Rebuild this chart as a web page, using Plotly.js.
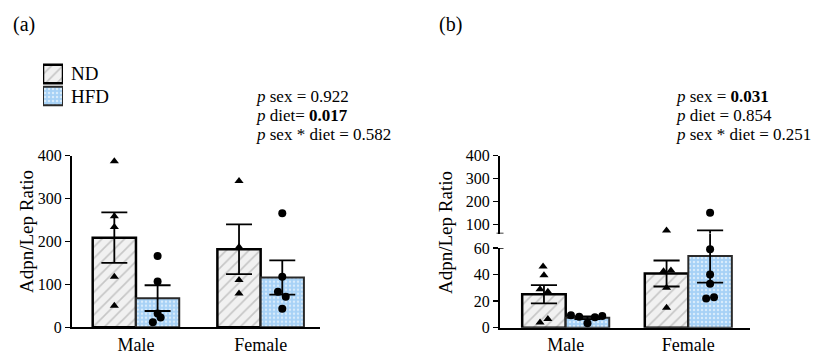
<!DOCTYPE html>
<html><head><meta charset="utf-8">
<script src="https://cdn.plot.ly/plotly-3.0.1.min.js"></script>
<style>html,body{margin:0;padding:0;background:#fff}</style>
</head><body><div id="chart" style="width:816px;height:354px"></div>
<script>
// ---------------- data ----------------
const categories = ['Male', 'Female'];
const groups = ['ND', 'HFD'];
const yTitle = 'Adpn/Lep Ratio';

// Panel (a)
const aNdMean = [209, 182];
const aNdSem = [59, 58];
const aHfdMean = [68, 116];
const aHfdSem = [30, 40];
const aMaleNd = [387, 259, 234, 118, 50];
const aMaleHfd = [166, 107, 32, 23, 12];
const aFemaleNd = [341, 187, 110, 79];
const aFemaleHfd = [266, 118, 83, 71, 43];
const aStats = ['<i>p</i> sex = 0.922', '<i>p</i> diet= <b>0.017</b>', '<i>p</i> sex * diet = 0.582'];

// Panel (b)
const bNdMean = [25.2, 40.8];
const bNdSem = [6.9, 9.8];
const bHfdMean = [7.5, 54];
const bHfdSem = [1.1, 20];
const bMaleNd = [46, 39.5, 29, 27, 4, 6.5];
const bMaleHfd = [9.3, 8.3, 3.3, 7.8, 8.8];
const bFemaleNd = [74, 42.5, 43, 30, 15];
const bFemaleHfd = [151, 59, 40, 33, 22, 23];
const bStats = ['<i>p</i> sex = <b>0.031</b>', '<i>p</i> diet = 0.854', '<i>p</i> sex * diet = 0.251'];
const bBreak = 60;   // axis break value

// horizontal jitter of the dots (fraction of a bar width)
const aJit = {mn: [0,0,0,0,0], mh: [0,0,0,0.07,-0.11], fn: [0,0,0,0], fh: [0,0,-0.1,0.08,0]};
const bJit = {mn: [-0.02,0,-0.09,0.09,-0.09,0.09], mh: [-0.38,-0.19,0,0.17,0.34], fn: [0,-0.07,0.1,0,0], fh: [0,0,0,0,-0.09,0.09]};

// ---------------- helpers ----------------
const W = 816, H = 354;
const fx = p => p / W;
const fy = p => 1 - p / H;
const FONT = '"Liberation Serif", "Times New Roman", serif';

const ndMarker = {color: '#f2f2f2', line: {color: '#000', width: 2.5},
  pattern: {shape: '/', fillmode: 'replace', bgcolor: '#f1f1f1', fgcolor: '#c6c6c6', size: 8, solidity: 0.2}};
const hfdMarker = {color: '#a9d3f6', line: {color: '#2a2a2a', width: 2},
  pattern: {shape: '.', fillmode: 'replace', bgcolor: '#a6d1f6', fgcolor: '#d8ecfc', size: 4, solidity: 0.3}};

function errorLines(centers, means, sems, lo, hi, capHalf) {
  const x = [], y = [];
  centers.forEach((c, i) => {
    const top = means[i] + sems[i], bot = means[i] - sems[i];
    const a = Math.max(bot, lo), b = Math.min(top, hi);
    if (b > a) { x.push(c, c, null); y.push(a, b, null); }
    if (top >= lo && top <= hi) { x.push(c - capHalf, c + capHalf, null); y.push(top, top, null); }
    if (bot >= lo && bot <= hi) { x.push(c - capHalf, c + capHalf, null); y.push(bot, bot, null); }
  });
  return {x, y};
}

function dots(vals, center, jit, w, symbol, xa, ya, filter) {
  const x = [], y = [];
  vals.forEach((v, i) => { if (!filter || filter(v)) { x.push(center + jit[i] * w); y.push(v); } });
  return {type: 'scatter', mode: 'markers', x, y, xaxis: xa, yaxis: ya, cliponaxis: false,
    marker: {symbol, size: 8, color: '#000'}, hoverinfo: 'y', showlegend: false};
}

const traces = [];
const shapes = [];
const idx = categories.map((c, i) => i);

// ---------------- panel (a) ----------------
const wa = 0.347;
traces.push({type: 'bar', name: groups[0], x: idx, y: aNdMean, width: wa, offset: -wa, marker: ndMarker, xaxis: 'x', yaxis: 'y', showlegend: false});
traces.push({type: 'bar', name: groups[1], x: idx, y: aHfdMean, width: wa, offset: 0, marker: hfdMarker, xaxis: 'x', yaxis: 'y', showlegend: false});
{
  const ndC = idx.map(i => i - wa / 2), hfC = idx.map(i => i + wa / 2);
  [[ndC, aNdMean, aNdSem], [hfC, aHfdMean, aHfdSem]].forEach(([c, m, s]) => {
    const e = errorLines(c, m, s, 0, 400, 0.3 * wa);
    traces.push({type: 'scatter', mode: 'lines', x: e.x, y: e.y, xaxis: 'x', yaxis: 'y', line: {color: '#000', width: 1.8}, hoverinfo: 'skip', showlegend: false, cliponaxis: false});
  });
  traces.push(dots(aMaleNd, ndC[0], aJit.mn, wa, 'triangle-up', 'x', 'y'));
  traces.push(dots(aMaleHfd, hfC[0], aJit.mh, wa, 'circle', 'x', 'y'));
  traces.push(dots(aFemaleNd, ndC[1], aJit.fn, wa, 'triangle-up', 'x', 'y'));
  traces.push(dots(aFemaleHfd, hfC[1], aJit.fh, wa, 'circle', 'x', 'y'));
}

// ---------------- panel (b) ----------------
const wb = 0.355;
const lowDom = [fy(327.7), fy(248)];
const upDom = [fy(233.6), fy(155.7)];
traces.push({type: 'bar', name: groups[0], x: idx, y: bNdMean, width: wb, offset: -wb, marker: ndMarker, xaxis: 'x2', yaxis: 'y2', showlegend: false});
traces.push({type: 'bar', name: groups[1], x: idx, y: bHfdMean, width: wb, offset: 0, marker: hfdMarker, xaxis: 'x2', yaxis: 'y2', showlegend: false});
{
  const ndC = idx.map(i => i - wb / 2), hfC = idx.map(i => i + wb / 2);
  [[ndC, bNdMean, bNdSem], [hfC, bHfdMean, bHfdSem]].forEach(([c, m, s]) => {
    const lo = errorLines(c, m, s, 0, bBreak, 0.3 * wb);
    traces.push({type: 'scatter', mode: 'lines', x: lo.x, y: lo.y, xaxis: 'x2', yaxis: 'y2', line: {color: '#000', width: 1.8}, hoverinfo: 'skip', showlegend: false, cliponaxis: false});
    const up = errorLines(c, m, s, bBreak, 400, 0.3 * wb);
    traces.push({type: 'scatter', mode: 'lines', x: up.x, y: up.y, xaxis: 'x2', yaxis: 'y3', line: {color: '#000', width: 1.8}, hoverinfo: 'skip', showlegend: false, cliponaxis: false});
    c.forEach((cc, i) => {
      if (m[i] - s[i] <= bBreak && m[i] + s[i] > bBreak) {
        shapes.push({type: 'line', xref: 'x2', yref: 'paper', x0: cc, x1: cc, y0: lowDom[1], y1: upDom[0], line: {color: '#000', width: 1.8}});
      }
    });
  });
  const low = v => v <= bBreak, high = v => v > bBreak;
  [[bMaleNd, ndC[0], bJit.mn, 'triangle-up'], [bMaleHfd, hfC[0], bJit.mh, 'circle'],
   [bFemaleNd, ndC[1], bJit.fn, 'triangle-up'], [bFemaleHfd, hfC[1], bJit.fh, 'circle']].forEach(([v, c, j, s]) => {
    traces.push(dots(v, c, j, wb, s, 'x2', 'y2', low));
    traces.push(dots(v, c, j, wb, s, 'x2', 'y3', high));
  });
}
// axis break cross-bars
shapes.push({type: 'line', xref: 'x2 domain', yref: 'y3', x0: -0.014, x1: 0.014, y0: bBreak, y1: bBreak, line: {color: '#000', width: 1.5}});
shapes.push({type: 'line', xref: 'x2 domain', yref: 'y2', x0: -0.014, x1: 0.014, y0: bBreak, y1: bBreak, line: {color: '#000', width: 1.5}});

// ---------------- legend swatches ----------------
traces.push({type: 'bar', orientation: 'h', name: groups[0], x: [1], y: [1], base: 0, width: 0.84, marker: ndMarker, xaxis: 'x3', yaxis: 'y4', showlegend: false, hoverinfo: 'name'});
traces.push({type: 'bar', orientation: 'h', name: groups[1], x: [1], y: [0], base: 0, width: 0.84, marker: hfdMarker, xaxis: 'x3', yaxis: 'y4', showlegend: false, hoverinfo: 'name'});

// ---------------- layout ----------------
const yBase = {ticks: 'outside', ticklen: 5, tickwidth: 1.5, tickcolor: '#000', showline: true, linecolor: '#000', linewidth: 2,
  showgrid: false, zeroline: false, tickfont: {family: FONT, size: 16, color: '#000'}, fixedrange: true};
const xBase = {tickvals: idx, ticktext: categories, ticks: '', showline: true, linecolor: '#000', linewidth: 2,
  showgrid: false, zeroline: false, tickfont: {family: FONT, size: 18, color: '#000'}, ticklabelstandoff: 0, fixedrange: true};

const ann = [];
const txt = (text, x, y, size, xanchor, extra) => ann.push(Object.assign({text, x: fx(x), y: fy(y), xref: 'paper', yref: 'paper',
  xanchor: xanchor || 'left', yanchor: 'middle', showarrow: false, font: {family: FONT, size, color: '#000'}}, extra || {}));
txt('(a)', 11, 25, 20);
txt('(b)', 437, 25, 20);
txt(groups[0], 69, 73, 19);
txt(groups[1], 69, 97, 19);
aStats.forEach((s, i) => txt(s, 254, 97 + i * 18.6, 17));
bStats.forEach((s, i) => txt(s, 674, 97 + i * 18.6, 17));
txt(yTitle, 27, 232, 19, 'center', {textangle: -90});
txt(yTitle, 446, 232, 19, 'center', {textangle: -90});

const layout = {
  width: W, height: H, margin: {l: 0, r: 0, t: 0, b: 0}, paper_bgcolor: '#fff', plot_bgcolor: 'rgba(0,0,0,0)',
  barmode: 'overlay', showlegend: false, font: {family: FONT, color: '#000'},
  xaxis: Object.assign({}, xBase, {domain: [fx(72), fx(320)], range: [-0.513, 1.476], anchor: 'y'}),
  yaxis: Object.assign({}, yBase, {domain: [fy(327.3), fy(155.7)], range: [0, 400], tickvals: [0, 100, 200, 300, 400], anchor: 'x'}),
  xaxis2: Object.assign({}, xBase, {domain: [fx(500), fx(750)], range: [-0.536, 1.503], anchor: 'y2'}),
  yaxis2: Object.assign({}, yBase, {domain: lowDom, range: [0, bBreak], tickvals: [0, 20, 40, 60], anchor: 'x2'}),
  yaxis3: Object.assign({}, yBase, {domain: upDom, range: [bBreak, 400], tickvals: [100, 200, 300, 400], anchor: 'x2'}),
  xaxis3: {domain: [fx(43), fx(63)], range: [0, 1], visible: false, anchor: 'y4', fixedrange: true},
  yaxis4: {domain: [fy(107), fy(63)], range: [-0.5, 1.5], visible: false, anchor: 'x3', fixedrange: true},
  shapes, annotations: ann
};

Plotly.newPlot('chart', traces, layout, {displayModeBar: false, staticPlot: true});
</script></body></html>
